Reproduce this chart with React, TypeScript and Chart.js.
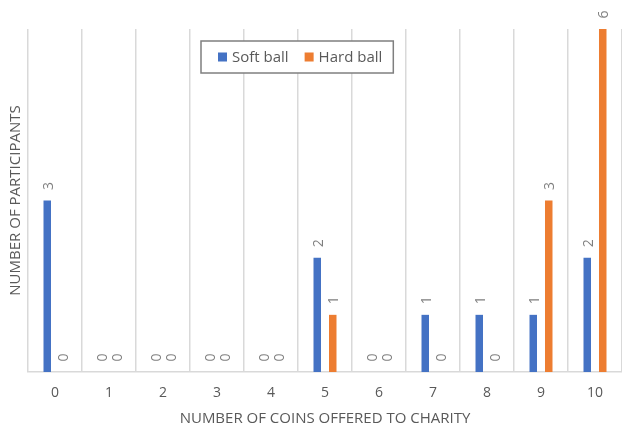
import React, { useEffect, useRef } from "react";
import { Chart, registerables, Plugin } from "chart.js";

Chart.register(...registerables);

// Coins offered to charity (0..10) and how many participants chose each amount
const coinCategories = ["0", "1", "2", "3", "4", "5", "6", "7", "8", "9", "10"];
const softBallCounts = [3, 0, 0, 0, 0, 2, 0, 1, 1, 1, 2];
const hardBallCounts = [0, 0, 0, 0, 0, 1, 0, 0, 0, 3, 6];

const seriesNames = ["Soft ball", "Hard ball"];
const seriesColors = ["#4472C4", "#ED7D31"];

const FONT = "'Open Sans', 'Liberation Sans', sans-serif";
const TEXT_GREY = "#595959";
const LABEL_GREY = "#7F7F7F";
const GRID_GREY = "#D9D9D9";

// Vertical value labels sitting just above each bar
const barValueLabels: Plugin<"bar"> = {
  id: "barValueLabels",
  afterDatasetsDraw(chart) {
    const ctx = chart.ctx;
    ctx.save();
    ctx.font = `14px ${FONT}`;
    ctx.fillStyle = LABEL_GREY;
    ctx.textAlign = "left";
    ctx.textBaseline = "middle";
    chart.data.datasets.forEach((ds, di) => {
      const meta = chart.getDatasetMeta(di);
      meta.data.forEach((el: any, i: number) => {
        const v = ds.data[i] as number;
        ctx.save();
        ctx.translate(el.x + 1.5, el.y - 10.5);
        ctx.rotate(-Math.PI / 2);
        ctx.fillText(String(v), 0, 0);
        ctx.restore();
      });
    });
    ctx.restore();
  },
};

// Boxed legend floating inside the plot area
const boxedLegend: Plugin<"bar"> = {
  id: "boxedLegend",
  afterDraw(chart) {
    const ctx = chart.ctx;
    const area = chart.chartArea;
    ctx.save();
    ctx.font = `15px ${FONT}`;
    const sw = 9;
    const padL = 17;
    const padR = 11;
    const gapSwatch = 5;
    const gapItems = 16;
    const widths = chart.data.datasets.map((d) => ctx.measureText(String(d.label)).width);
    let boxW = padL + padR;
    widths.forEach((w, i) => {
      boxW += sw + gapSwatch + w + (i < widths.length - 1 ? gapItems : 0);
    });
    const boxH = 32;
    const bx = area.left + 173;
    const by = area.top + 12;
    ctx.fillStyle = "#FFFFFF";
    ctx.fillRect(bx, by, boxW, boxH);
    ctx.strokeStyle = "#7F7F7F";
    ctx.lineWidth = 1.5;
    ctx.strokeRect(bx, by, boxW, boxH);
    let x = bx + padL;
    const cy = by + boxH / 2;
    chart.data.datasets.forEach((d, i) => {
      ctx.fillStyle = d.backgroundColor as string;
      ctx.fillRect(x, cy - sw / 2, sw, sw);
      x += sw + gapSwatch;
      ctx.fillStyle = TEXT_GREY;
      ctx.textAlign = "left";
      ctx.textBaseline = "middle";
      ctx.fillText(String(d.label), x, cy + 1);
      x += widths[i] + gapItems;
    });
    ctx.restore();
  },
};

export default function App() {
  const canvasRef = useRef<HTMLCanvasElement | null>(null);

  useEffect(() => {
    if (!canvasRef.current) return;
    const chart = new Chart(canvasRef.current, {
      type: "bar",
      data: {
        labels: coinCategories,
        datasets: [
          {
            label: seriesNames[0],
            data: softBallCounts,
            backgroundColor: seriesColors[0],
            barPercentage: 0.484,
            categoryPercentage: 0.574,
          },
          {
            label: seriesNames[1],
            data: hardBallCounts,
            backgroundColor: seriesColors[1],
            barPercentage: 0.484,
            categoryPercentage: 0.574,
          },
        ],
      },
      options: {
        animation: false,
        responsive: false,
        maintainAspectRatio: false,
        layout: { padding: { top: 29, left: 0, right: -2, bottom: 0 } },
        plugins: {
          legend: { display: false },
          tooltip: { enabled: false },
        },
        scales: {
          x: {
            grid: {
              display: true,
              offset: true,
              color: GRID_GREY,
              lineWidth: 1.5,
              drawTicks: false,
            },
            border: { display: true, color: GRID_GREY, width: 1.5 },
            ticks: {
              color: TEXT_GREY,
              font: { family: FONT, size: 14, lineHeight: 1.0 },
              padding: 14,
              maxRotation: 0,
            },
            title: {
              display: true,
              text: "NUMBER OF COINS OFFERED TO CHARITY",
              color: TEXT_GREY,
              font: { family: FONT, size: 15 },
              padding: { top: -4, bottom: 0 },
            },
          },
          y: {
            min: 0,
            max: 6,
            grid: { display: false, drawTicks: false },
            border: { display: false },
            ticks: { display: false },
            title: {
              display: true,
              text: "NUMBER OF PARTICIPANTS",
              color: TEXT_GREY,
              font: { family: FONT, size: 15 },
              padding: { top: 6.5, bottom: 3.5 },
            },
          },
        },
      },
      plugins: [barValueLabels, boxedLegend],
    });
    return () => chart.destroy();
  }, []);

  return (
    <div style={{ position: "absolute", left: 0, top: 0, width: 622, height: 428, background: "#fff" }}>
      <canvas ref={canvasRef} width={622} height={428} style={{ width: 622, height: 428 }} />
    </div>
  );
}
